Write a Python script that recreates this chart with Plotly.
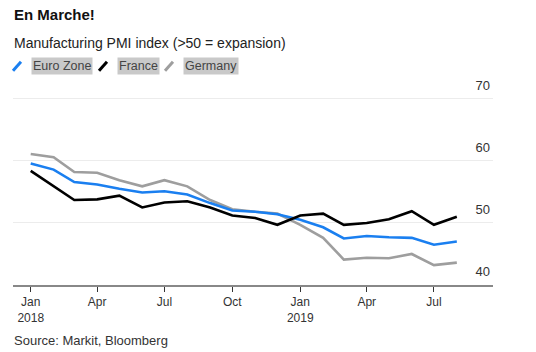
import plotly.graph_objects as go

months = ["2018-01-01","2018-02-01","2018-03-01","2018-04-01","2018-05-01","2018-06-01",
          "2018-07-01","2018-08-01","2018-09-01","2018-10-01","2018-11-01","2018-12-01",
          "2019-01-01","2019-02-01","2019-03-01","2019-04-01","2019-05-01","2019-06-01",
          "2019-07-01","2019-08-01"]
euro_zone = [59.6, 58.6, 56.6, 56.2, 55.5, 54.9, 55.1, 54.6, 53.2, 52.0, 51.8, 51.4,
             50.5, 49.3, 47.5, 47.9, 47.7, 47.6, 46.5, 47.0]
france = [58.4, 55.9, 53.7, 53.8, 54.4, 52.5, 53.3, 53.5, 52.5, 51.2, 50.8, 49.7,
          51.2, 51.5, 49.7, 50.0, 50.6, 51.9, 49.7, 51.0]
germany = [61.1, 60.6, 58.2, 58.1, 56.9, 55.9, 56.9, 55.9, 53.7, 52.2, 51.8, 51.5,
           49.7, 47.6, 44.1, 44.4, 44.3, 45.0, 43.2, 43.6]

tick_vals = ["2018-01-01","2018-04-01","2018-07-01","2018-10-01","2019-01-01","2019-04-01","2019-07-01"]
tick_text = ["Jan<br>2018","Apr","Jul","Oct","Jan<br>2019","Apr","Jul"]
y_ticks = [40, 50, 60, 70]

series_names = ["Euro Zone", "France", "Germany"]
series_colors = ["#1a7ff0", "#000000", "#9e9e9e"]

W, H = 536, 352
Y_MIN, Y_MAX = 40, 70.3
L, R, B = 13, 493, 285
T = 99 - (Y_MAX - 70) * 6.2
FONT = "Liberation Sans, Arial, Helvetica, sans-serif"

def px(x):
    return (x - L) / (R - L)

def py(y):
    return (B - y) / (B - T)

fig = go.Figure()
for name, vals, col in [("Germany", germany, series_colors[2]),
                        ("Euro Zone", euro_zone, series_colors[0]),
                        ("France", france, series_colors[1])]:
    fig.add_trace(go.Scatter(x=months, y=vals, mode="lines", name=name,
                             line=dict(color=col, width=2.6), showlegend=False))

annotations = [
    dict(text="<b>En Marche!</b>", x=px(12), y=py(15), xref="paper", yref="paper",
         xanchor="left", yanchor="middle", showarrow=False,
         font=dict(family=FONT, size=15, color="#111")),
    dict(text="Manufacturing PMI index (>50 = expansion)", x=px(12), y=py(43),
         xref="paper", yref="paper", xanchor="left", yanchor="middle", showarrow=False,
         font=dict(family=FONT, size=14, color="#222")),
    dict(text="Source: Markit, Bloomberg", x=px(12), y=py(340), xref="paper", yref="paper",
         xanchor="left", yanchor="middle", showarrow=False,
         font=dict(family=FONT, size=13, color="#333")),
]
shapes = []
leg_x = [(13, 31), (99, 117), (165, 183)]
for (ix, tx), name, col in zip(leg_x, series_names, series_colors):
    shapes.append(dict(type="line", xref="paper", yref="paper",
                       x0=px(ix), y0=py(71), x1=px(ix + 8), y1=py(62),
                       line=dict(color=col, width=3)))
    annotations.append(dict(text=name, x=px(tx), y=py(66.5), xref="paper", yref="paper",
                            xanchor="left", yanchor="middle", showarrow=False,
                            bgcolor="#c9c9c9", borderpad=1,
                            font=dict(family=FONT, size=12.5, color="#444")))

fig.update_layout(
    width=W, height=H,
    margin=dict(l=L, r=W - R, t=T, b=H - B, pad=0),
    paper_bgcolor="white", plot_bgcolor="white",
    annotations=annotations, shapes=shapes,
    xaxis=dict(type="date", range=["2017-12-08", "2019-09-19"],
               tickvals=tick_vals, ticktext=tick_text,
               ticks="outside", ticklen=5, tickwidth=1, tickcolor="#333",
               showline=True, linecolor="#888", linewidth=2,
               showgrid=False, zeroline=False,
               tickfont=dict(family=FONT, size=12, color="#333")),
    yaxis=dict(range=[Y_MIN, Y_MAX], tickvals=y_ticks, side="right",
               ticklabelposition="inside top", ticklabeloverflow="allow",
               ticklabelshift=-4,
               showgrid=True, gridcolor="#ececec", gridwidth=1,
               zeroline=False, showline=False, ticks="",
               tickfont=dict(family=FONT, size=13, color="#333")),
)

fig.write_html("out.html")
